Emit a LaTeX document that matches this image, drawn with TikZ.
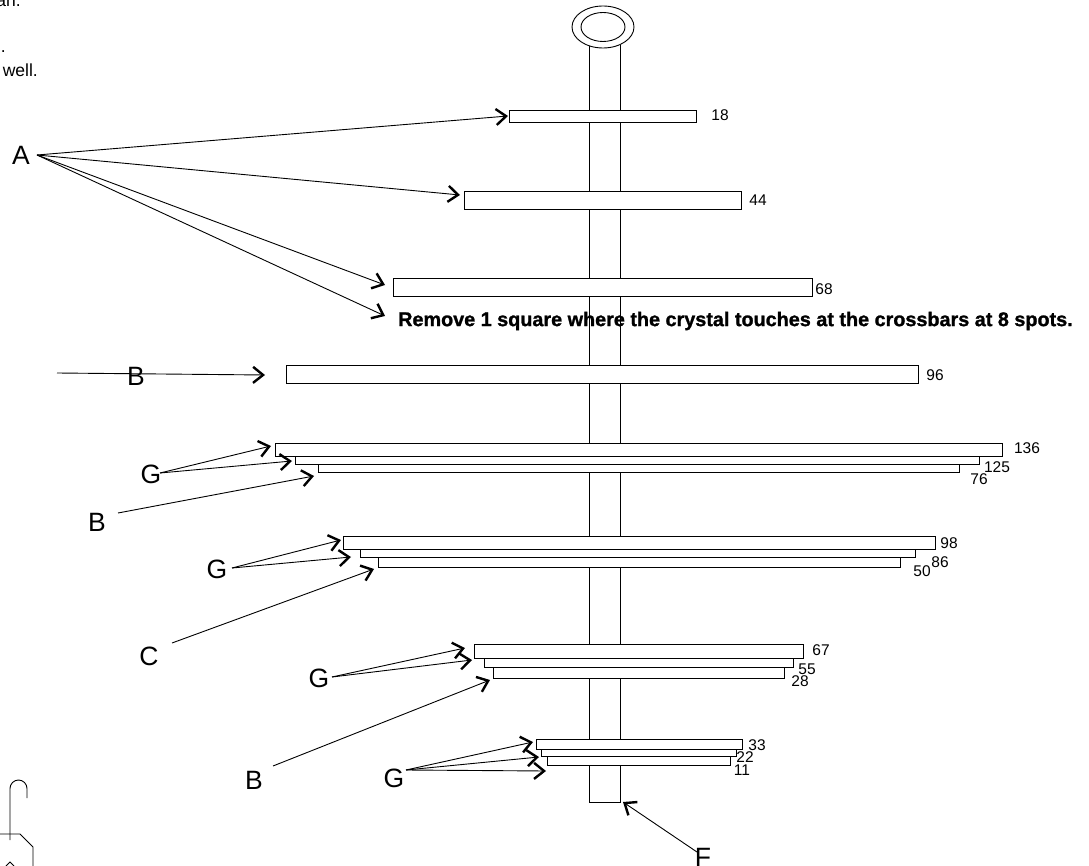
\documentclass[tikz,border=0pt]{standalone}
\usepackage{fontspec}
\setmainfont{Liberation Sans}
\newfontfamily\removefont[FakeBold=1.2]{Liberation Sans Bold}
\usetikzlibrary{arrows.meta}
\tikzset{
  crossbar/.style 2 args={draw,fill=white,line width=0.9pt,inner sep=0pt,outer sep=0pt,minimum width=#1pt,minimum height=#2pt},
  letter/.style={font=\fontsize{26.5}{26.5}\selectfont,inner sep=0pt},
  size/.style={font=\fontsize{15.5}{15.5}\selectfont,inner sep=0pt},
  note/.style={font=\fontsize{17.5}{17.5}\selectfont,inner sep=0pt,anchor=east},
  pointer/.style={-{Straight Barb[length=10pt,width=16pt,line width=2.4pt]},line width=0.9pt}
}
\begin{document}
\begin{tikzpicture}[x=1pt,y=-1pt]
  \useasboundingbox (0,0) rectangle (1089,866);
  % rod
  \draw[line width=0.9pt] (589,45) -- (589,802) -- (620,802) -- (620,45);
  \draw[line width=0.9pt,fill=white] (603,27) ellipse [x radius=31,y radius=21];
  \draw[line width=0.9pt] (603,27) ellipse [x radius=22,y radius=14.5];
  % crossbars
  \node[crossbar={187}{12}] (bar18) at (602.5,116) {};
  \node[crossbar={277}{18}] (bar44) at (602.5,200) {};
  \node[crossbar={419}{18}] (bar68) at (602.5,287) {};
  \node[crossbar={632}{18}] (bar96) at (602,374) {};
  \node[crossbar={727}{13}] (bar136) at (638.5,449.5) {};
  \node[crossbar={684}{8}] (bar125) at (637,460) {};
  \node[crossbar={641}{8}] (bar76) at (638.5,468) {};
  \node[crossbar={592}{13}] (bar98) at (639,542.5) {};
  \node[crossbar={555}{8}] (bar86) at (637.5,553) {};
  \node[crossbar={522}{10}] (bar50) at (639,562) {};
  \node[crossbar={329}{14}] (bar67) at (638.5,651) {};
  \node[crossbar={309}{9}] (bar55) at (638.5,662.5) {};
  \node[crossbar={291}{11}] (bar28) at (638.5,672.5) {};
  \node[crossbar={206}{10}] (bar33) at (639,744) {};
  \node[crossbar={195}{7}] (bar22) at (638.5,752.5) {};
  \node[crossbar={183}{9}] (bar11) at (638.5,760.5) {};
  % sizes
  \node[size] (num18) at (720,115) {18};
  \node[size] (num44) at (758,200) {44};
  \node[size] (num68) at (824,289) {68};
  \node[size] (num96) at (935,375) {96};
  \node[size] (num136) at (1027,448) {136};
  \node[size] (num125) at (997,467) {125};
  \node[size] (num76) at (979,479) {76};
  \node[size] (num98) at (949,543) {98};
  \node[size] (num86) at (940,562) {86};
  \node[size] (num50) at (922,571) {50};
  \node[size] (num67) at (821,650) {67};
  \node[size] (num55) at (807,669) {55};
  \node[size] (num28) at (800,681) {28};
  \node[size] (num33) at (757,745) {33};
  \node[size] (num22) at (745,757) {22};
  \node[size] (num11) at (742,770) {11};
  % letters
  \node[letter] (lblA) at (21,155) {A};
  \node[letter] (lblBa) at (136,376) {B};
  \node[letter] (lblGa) at (151,474) {G};
  \node[letter] (lblBb) at (97,522) {B};
  \node[letter] (lblGb) at (217,569) {G};
  \node[letter] (lblC) at (149,656) {C};
  \node[letter] (lblGc) at (319,678) {G};
  \node[letter] (lblBc) at (254,780) {B};
  \node[letter] (lblGd) at (394,778) {G};
  \node[letter] (lblF) at (703,857) {F};
  % free ends
  \coordinate (startBa) at (57,373);
  \coordinate (startBb) at (118,513);
  \coordinate (startC) at (172,643);
  \coordinate (startBc) at (273,766);
  \coordinate (startGa) at (160,473);
  \coordinate (startGb) at (232,568);
  \coordinate (startGc) at (332,677);
  \coordinate (startGd) at (406,770);
  \coordinate (startA) at (37,155);
  \coordinate (startF) at (697,852);
  \coordinate (tipA) at (508,116);
  \coordinate (tipB) at (460,195);
  \coordinate (tipC) at (385,285);
  \coordinate (tipD) at (385,316);
  % arrows
  \draw[pointer] (startA) -- (tipA);
  \draw[pointer] (startA) -- (tipB);
  \draw[pointer] (startA) -- (tipC);
  \draw[pointer] (startA) -- (tipD);
  \draw[pointer] (startBa) -- (265,375);
  \draw[pointer] (startGa) -- (271,446);
  \draw[pointer] (startGa) -- (292,461);
  \draw[pointer] (startBb) -- (314,476);
  \draw[pointer] (startGb) -- (341,540);
  \draw[pointer] (startGb) -- (351,557);
  \draw[pointer] (startC) -- (374,569);
  \draw[pointer] (startGc) -- (465,648);
  \draw[pointer] (startGc) -- (472,660);
  \draw[pointer] (startBc) -- (490,680);
  \draw[pointer] (startGd) -- (533,742);
  \draw[pointer] (startGd) -- (539,757);
  \draw[pointer] (startGd) -- (546,771);
  \draw[pointer] (startF) -- (623,802);
  % note
  \node[font=\fontsize{19.8}{19.8}\removefont,inner sep=0pt,anchor=west] (remove) at (398,321) {Remove 1 square where the crystal touches at the crossbars at 8 spots.};
  \node[note] (noteA) at (21,2) {an.};
  \node[note] (noteB) at (6,52) {.};
  \node[note] (noteC) at (38,70) {well.};
  % hanger
  \draw[line width=0.9pt] (10,840) -- (10,788.5) arc [start angle=180,end angle=360,radius=8.5] -- (27,798);
  \draw[line width=0.9pt] (0,834) -- (20,834) -- (33,847) -- (33,866);
  \draw[line width=0.9pt] (6,866) -- (10,862) -- (14,866);
\end{tikzpicture}
\end{document}
